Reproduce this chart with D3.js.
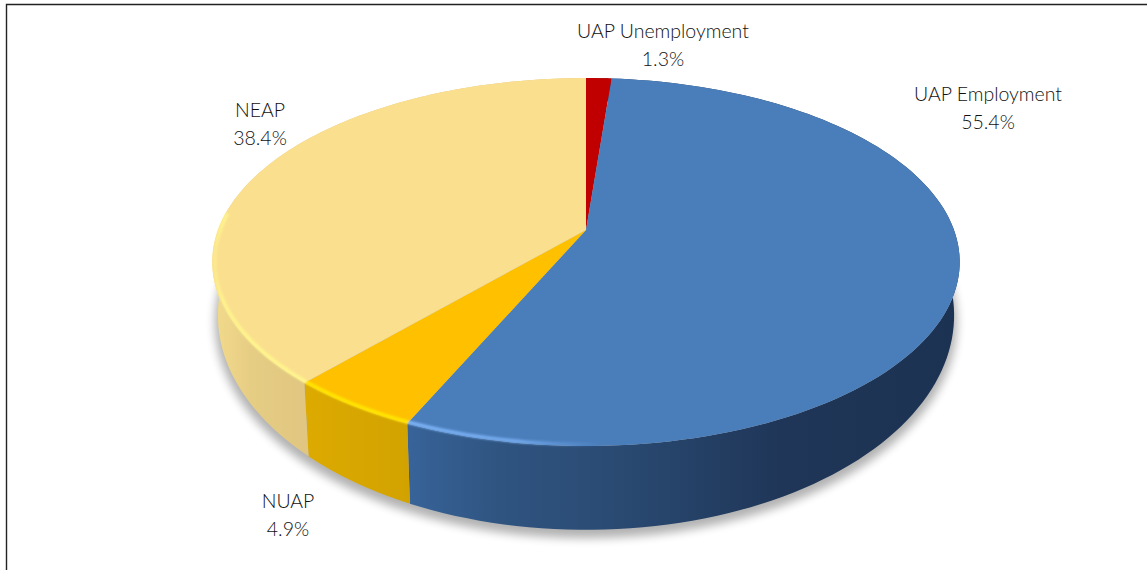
<!DOCTYPE html>
<html><head><meta charset="utf-8">
<script src="https://cdn.jsdelivr.net/npm/d3@7"></script>
<style>html,body{margin:0;padding:0;background:#fff}svg{display:block}text{font-family:Lato,sans-serif;font-weight:300;font-size:19.5px;fill:#111;text-anchor:middle}</style>
</head><body><svg id="c" width="1147" height="570"></svg>
<script>
const categories=["UAP Unemployment","UAP Employment","NUAP","NEAP"];
const shares=[1.3,55.4,4.9,38.4];
const valueLabels=["1.3%","55.4%","4.9%","38.4%"];

const topColors=["#c00000","#4a7ebb","#ffc000","#fadf8f"];
const labelCenters=[[663,38],[988,101],[288,508],[260,117]];
const labelLeading=28;

const svg=d3.select("#c");
const defs=svg.append("defs");
const blur=(id,s)=>defs.append("filter").attr("id",id).attr("x","-20%").attr("y","-20%").attr("width","140%").attr("height","140%").append("feGaussianBlur").attr("stdDeviation",s);
blur("soft",5);blur("rim",1.1);
const grad=(id,stops)=>{const g=defs.append("linearGradient").attr("id",id).attr("gradientUnits","userSpaceOnUse").attr("x1",200).attr("x2",960).attr("y1",0).attr("y2",0);
  stops.forEach(s=>g.append("stop").attr("offset",(s[0]-200)/760).attr("stop-color",s[1]).attr("stop-opacity",s[2]===undefined?1:s[2]));return "url(#"+id+")";};
const sideFill=[
  "#7a0000",
  grad("sBlue",[[405,"#38649a"],[500,"#2f5480"],[620,"#2a4a72"],[780,"#1f3658"],[960,"#1c3252"]]),
  grad("sOrange",[[305,"#dcaa00"],[410,"#d2a200"]]),
  grad("sYellow",[[212,"#f3db8c"],[250,"#e6cd84"],[305,"#e0c680"]])
];
const rimFill=[
  "none",
  grad("rBlue",[[405,"#7db4f8",1],[520,"#7db4f8",.8],[600,"#6fa6ee",0]]),
  grad("rOrange",[[300,"#ffe600",1],[412,"#ffe600",1]]),
  grad("rYellow",[[212,"#fff58c",.3],[222,"#fff58c",.9],[250,"#fff58c",1],[305,"#fff58c",1]])
];

// perspective projection of a unit disc
const tilt=0.174;
const topX=d3.scaleLinear().domain([0,1]).range([586,586+368]);
const topY=d3.scaleLinear().domain([0,1]).range([230,230+178.4]);
const baseX=d3.scaleLinear().domain([0,1]).range([586,586+362.5]);
const baseY=d3.scaleLinear().domain([0,1]).range([278,278+208]);
const proj=(sx,sy,a,r=1)=>{const x=r*Math.sin(a),y=-r*Math.cos(a),w=1-tilt*y;return [sx(x/w),sy(y/w)];};
const onTop=(a,r)=>proj(topX,topY,a,r), onBase=(a,r)=>proj(baseX,baseY,a,r);
const arcAngles=(a0,a1)=>d3.range(0,121).map(i=>a0+(a1-a0)*i/120);
const line=d3.line();

const arcs=d3.pie().sort(null).value((d,i)=>shares[i])(categories);
const full=arcAngles(0,2*Math.PI);
const rimLimit=1.53*Math.PI; // the highlight stays on the front edge

// ground shadow
svg.append("path").attr("d",line(full.map(a=>{const p=onBase(a,1.008);return [p[0],p[1]+6];}))+"Z")
  .attr("fill","#000").attr("opacity",.3).attr("filter","url(#soft)");

// sides
svg.append("g").selectAll("path").data(arcs).join("path")
  .attr("d",d=>{const as=arcAngles(d.startAngle,d.endAngle);return line(as.map(a=>onTop(a)).concat(as.slice().reverse().map(a=>onBase(a))))+"Z";})
  .attr("fill",(d,i)=>sideFill[i]);

// top faces
svg.append("g").selectAll("path").data(arcs).join("path")
  .attr("d",d=>line([onTop(0,0)].concat(arcAngles(d.startAngle,d.endAngle).map(a=>onTop(a))))+"Z")
  .attr("fill",(d,i)=>topColors[i]);

// bevel highlight on the front edge
svg.append("g").attr("filter","url(#rim)").selectAll("path").data(arcs).join("path")
  .attr("d",d=>line(arcAngles(d.startAngle,Math.min(d.endAngle,rimLimit)).map(a=>onTop(a,.994))))
  .attr("fill","none").attr("stroke",(d,i)=>rimFill[i]).attr("stroke-width",3.6);

// labels
const lab=svg.append("g").selectAll("g").data(categories).join("g");
lab.append("text").attr("x",(d,i)=>labelCenters[i][0]).attr("y",(d,i)=>labelCenters[i][1]).text(d=>d);
lab.append("text").attr("x",(d,i)=>labelCenters[i][0]).attr("y",(d,i)=>labelCenters[i][1]+labelLeading).text((d,i)=>valueLabels[i]);

// frame
svg.append("path").attr("d",line([[6.5,570],[6.5,4.5],[1147,4.5]])).attr("fill","none").attr("stroke","#222").attr("stroke-width",1.4);
</script></body></html>
